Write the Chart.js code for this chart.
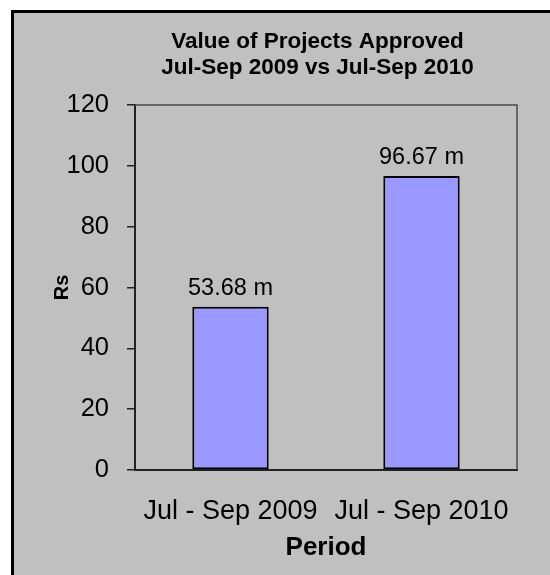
<!DOCTYPE html>
<html>
<head>
<meta charset="utf-8">
<script src="https://cdn.jsdelivr.net/npm/chart.js@4"></script>
<style>
    html, body { margin: 0; padding: 0; background: #fff; overflow: hidden; }
    #fundo {
        position: absolute; left: 11px; top: 10px; width: 600px; height: 600px;
        background: #c0c0c0; border-left: 3px solid #000; border-top: 3px solid #000;
    }
    #wrap { position: absolute; left: 0; top: 0; width: 550px; height: 575px; }
</style>
</head>
<body>
<div id="fundo"></div>
<div id="wrap"><canvas id="projectsChart" width="550" height="575"></canvas></div>
<script>
// dados
const periodos = ['Jul - Sep 2009', 'Jul - Sep 2010'];
const valores = [53.68, 96.67];
const rotulos = ['53.68 m', '96.67 m'];
const tituloLinhas = ['Value of Projects Approved', 'Jul-Sep 2009 vs Jul-Sep 2010'];

// moldura da área do gráfico (linhas de cima e da direita)
const moldura = {
    id: 'moldura',
    beforeDatasetsDraw(chart) {
        const { ctx, chartArea: a } = chart;
        ctx.save();
        ctx.strokeStyle = '#4a4a4a';
        ctx.lineWidth = 1.5;
        ctx.beginPath();
        ctx.moveTo(a.left, a.top);
        ctx.lineTo(a.right, a.top);
        ctx.lineTo(a.right, a.bottom);
        ctx.stroke();
        ctx.restore();
    }
};

// rótulos de valor em cima das barras
const rotulosBarras = {
    id: 'rotulosBarras',
    afterDatasetsDraw(chart) {
        const { ctx } = chart;
        const meta = chart.getDatasetMeta(0);
        ctx.save();
        ctx.font = '23.5px "Liberation Sans", Arial, sans-serif';
        ctx.fillStyle = '#000';
        ctx.textAlign = 'center';
        ctx.textBaseline = 'alphabetic';
        meta.data.forEach((bar, i) => {
            ctx.fillText(rotulos[i], bar.x, bar.y - 12);
        });
        ctx.restore();
    }
};

// título centralizado um pouco à direita, como no original
const ajusteTitulo = {
    id: 'ajusteTitulo',
    afterLayout(chart) {
        const t = chart.titleBlock;
        t.left += 52;
        t.right += 52;
    }
};

const ctx = document.getElementById('projectsChart').getContext('2d');

new Chart(ctx, {
    type: 'bar',
    data: {
        labels: periodos,
        datasets: [{
            data: valores,
            backgroundColor: '#9999ff',
            borderColor: '#000',
            borderWidth: 2,
            borderSkipped: false,
            barPercentage: 0.4,
            categoryPercentage: 1
        }]
    },
    options: {
        responsive: false,
        animation: false,
        layout: { padding: { left: 14, right: 33, top: 0, bottom: 0 } },
        plugins: {
            legend: { display: false },
            tooltip: { enabled: false },
            title: {
                display: true,
                text: tituloLinhas,
                color: '#000',
                font: { family: '"Liberation Sans", Arial, sans-serif', size: 22.5, weight: 'bold', lineHeight: 1.15 },
                padding: { top: 29, bottom: 24.2 }
            }
        },
        scales: {
            x: {
                afterFit(scale) { scale.height = 105; },
                grid: { drawOnChartArea: false, drawTicks: false },
                border: { color: '#222', width: 2 },
                ticks: {
                    color: '#000',
                    font: { family: '"Liberation Sans", Arial, sans-serif', size: 27 },
                    padding: 25,
                    maxRotation: 0,
                    autoSkip: false
                },
                title: {
                    display: true,
                    text: 'Period',
                    color: '#000',
                    font: { family: '"Liberation Sans", Arial, sans-serif', size: 26, weight: 'bold' },
                    padding: { top: 0, bottom: 12 }
                }
            },
            y: {
                min: 0,
                max: 120,
                afterFit(scale) { scale.width = 121; },
                grid: { drawOnChartArea: false, drawTicks: true, tickLength: 8, tickColor: '#222', lineWidth: 1.5 },
                border: { color: '#222', width: 2 },
                ticks: {
                    stepSize: 20,
                    color: '#000',
                    font: { family: '"Liberation Sans", Arial, sans-serif', size: 25.5 },
                    padding: 18
                },
                title: {
                    display: true,
                    text: 'Rs',
                    color: '#000',
                    font: { family: '"Liberation Sans", Arial, sans-serif', size: 20, weight: 'bold' },
                    padding: { top: 36, bottom: 0 }
                }
            }
        }
    },
    plugins: [moldura, rotulosBarras, ajusteTitulo]
});
</script>
</body>
</html>
